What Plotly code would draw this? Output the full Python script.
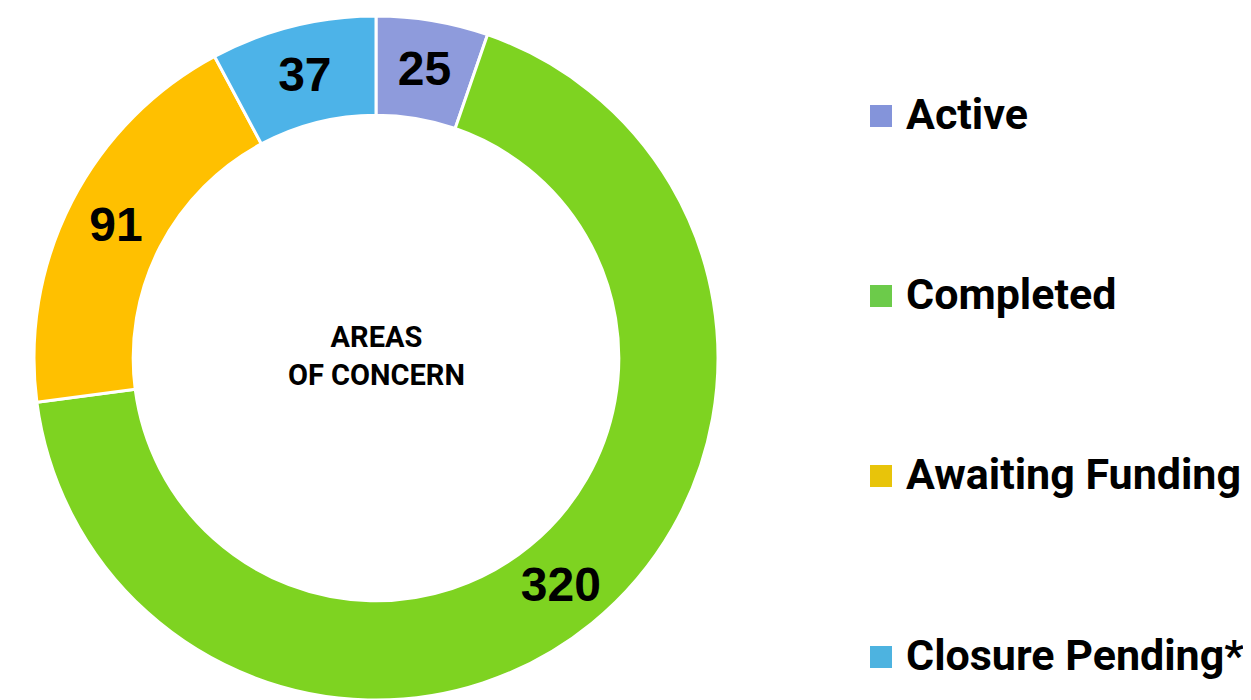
import plotly.graph_objects as go

labels = ["Active", "Completed", "Awaiting Funding", "Closure Pending*"]
values = [25, 320, 91, 37]
slice_colors = ["#8E9BDC", "#7ED321", "#FFC000", "#4DB3E8"]
legend_colors = ["#8494DA", "#6CCB4A", "#E8C40A", "#4DB3E0"]
center_title = "AREAS<br>OF CONCERN"

OFF = 8  # page body margin offset
W, H = 1251 - OFF, 700 - OFF
cx, cy, R = 376 - OFF, 358 - OFF, 342

fig = go.Figure()
fig.add_trace(go.Pie(
    labels=labels,
    values=values,
    sort=False,
    direction="clockwise",
    rotation=0,
    hole=0.71,
    marker=dict(colors=slice_colors, line=dict(color="white", width=3)),
    textinfo="value",
    textposition="inside",
    insidetextorientation="horizontal",
    textfont=dict(family="Liberation Sans", size=48, color="black", weight="bold"),
    domain=dict(x=[(cx - R) / W, (cx + R) / W],
                y=[max(0, 1 - (cy + R) / H), 1 - (cy - R) / H]),
    showlegend=False,
    hoverinfo="label+value",
))

# center text
fig.add_annotation(
    x=cx / W, y=1 - (cy - 2) / H, xref="paper", yref="paper",
    xanchor="center", yanchor="middle",
    text=center_title, showarrow=False,
    font=dict(family="Roboto", size=29, color="black", weight="bold"),
    align="center",
)

# legend built from the category list
legend_y = [116, 296, 476, 657]
shapes = []
for i, (lab, col) in enumerate(zip(labels, legend_colors)):
    yc = legend_y[i] - OFF
    shapes.append(dict(
        type="rect", xref="paper", yref="paper",
        x0=(870 - OFF) / W, x1=(892 - OFF) / W, y0=1 - (yc + 11) / H, y1=1 - (yc - 11) / H,
        fillcolor=col, line=dict(width=0),
    ))
    fig.add_annotation(
        x=(907 - 3 - OFF) / W, y=1 - (yc - 2) / H, xref="paper", yref="paper",
        xanchor="left", yanchor="middle",
        text=lab, showarrow=False,
        font=dict(family="Roboto", size=43, color="black", weight="bold"),
    )

fig.update_layout(
    width=W, height=H,
    margin=dict(l=0, r=0, t=0, b=0),
    paper_bgcolor="white",
    plot_bgcolor="white",
    shapes=shapes,
)

fig.write_html("out.html")
